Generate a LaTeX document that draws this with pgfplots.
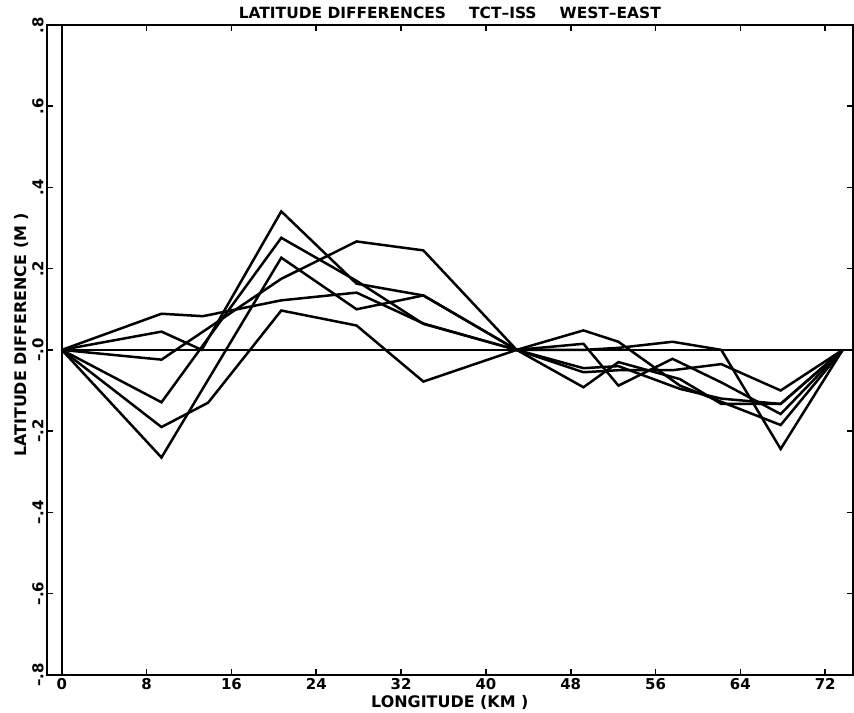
\documentclass[border=0pt]{standalone}
\usepackage{fontspec}
\setmainfont{DejaVu Sans}
\usepackage{pgfplots}
\pgfplotsset{compat=1.18}

\begin{document}
\begin{tikzpicture}
\begin{axis}[
    scale only axis,
    width=806bp, height=650bp,
    xmin=-1.4, xmax=74.6,
    ymin=-0.8, ymax=0.8,
    axis line style={line width=2bp},
    tick align=inside,
    major tick length=6bp,
    tick style={black, line width=1.6bp},
    xtick={0,8,16,24,32,40,48,56,64,72},
    xticklabels={0,8,16,24,32,40,48,56,64,72},
    ytick={-0.8,-0.6,-0.4,-0.2,0,0.2,0.4,0.6,0.8},
    yticklabels={\textendash.8,\textendash.6,\textendash.4,\textendash.2,\textendash.0,.2,.4,.6,.8},
    ticklabel style={font=\bfseries\fontsize{15}{15}\selectfont},
    xticklabel style={yshift=0bp},
    yticklabel style={rotate=90, anchor=south, xshift=0bp},
    title={LATITUDE DIFFERENCES\hspace{1.5em}TCT\textendash ISS\hspace{1.5em}WEST\textendash EAST},
    title style={font=\bfseries\fontsize{15.5}{15.5}\selectfont, yshift=-3bp},
    xlabel={LONGITUDE (KM )},
    xlabel style={font=\bfseries\fontsize{16}{16}\selectfont, yshift=1bp},
    ylabel={LATITUDE DIFFERENCE (M )},
    ylabel style={font=\bfseries\fontsize{16}{16}\selectfont, yshift=-3bp, xshift=15bp},
    prof/.style={black, line width=2.5bp, line join=miter, mark=none},
    clip=false,
]
% reference lines
\addplot[prof] coordinates {(0,-0.8) (0,0.8)};
\addplot[prof] coordinates {(0,0) (74.6,0)};

% six west-east profiles
\addplot[prof] coordinates {(0,0) (9.4,0.045) (13.2,0.0) (20.7,0.341) (27.8,0.163) (34.1,0.134) (42.9,0)
  (49.2,0.0) (52.5,0.005) (57.6,0.02) (62.2,0.0) (67.8,-0.244) (73.65,0)};
\addplot[prof] coordinates {(0,0) (9.4,-0.129) (20.7,0.276) (27.8,0.17) (34.1,0.064) (42.9,0)
  (49.2,0.048) (52.5,0.02) (58.3,-0.088) (67.8,-0.185) (73.65,0)};
\addplot[prof] coordinates {(0,0) (9.4,-0.265) (20.7,0.227) (27.8,0.10) (34.1,0.134) (42.9,0)
  (49.2,0.015) (52.5,-0.088) (57.6,-0.022) (62.2,-0.08) (67.8,-0.158) (73.65,0)};
\addplot[prof] coordinates {(0,0) (9.4,-0.024) (20.7,0.175) (27.8,0.267) (34.1,0.245) (42.9,0)
  (49.2,-0.092) (52.5,-0.03) (58.3,-0.072) (62.2,-0.133) (67.8,-0.133) (73.65,0)};
\addplot[prof] coordinates {(0,0) (9.4,0.089) (13.3,0.083) (20.7,0.122) (27.8,0.141) (34.1,0.065) (42.9,0)
  (49.2,-0.055) (52.5,-0.05) (57.6,-0.05) (62.2,-0.035) (67.8,-0.10) (73.65,0)};
\addplot[prof] coordinates {(0,0) (9.4,-0.19) (13.8,-0.13) (20.7,0.097) (27.8,0.06) (34.1,-0.078) (42.9,0)
  (49.2,-0.045) (52.5,-0.04) (58.3,-0.096) (62.2,-0.12) (67.8,-0.133) (73.65,0)};
\end{axis}
\path ([xshift=-47bp,yshift=-35bp]current axis.south west) rectangle ([xshift=1bp,yshift=25bp]current axis.north east);
\end{tikzpicture}
\end{document}
